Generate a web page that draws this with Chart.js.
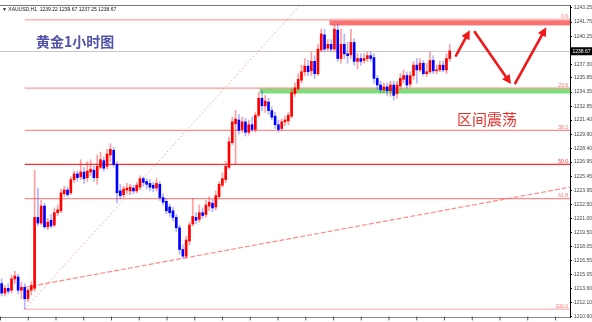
<!DOCTYPE html>
<html>
<head>
<meta charset="utf-8">
<script src="https://cdn.jsdelivr.net/npm/chart.js@4/dist/chart.umd.min.js"></script>
<style>
html,body{margin:0;padding:0;background:#fff;overflow:hidden}
</style>
</head>
<body>
<canvas id="grafica" width="592" height="322"></canvas>
<script>
// XAUUSD H1 velas: apertura, máximo, mínimo, cierre
const apertura = [
1214.1,1213.1,1213.6,1213.4,1214.6,1214.8,1213.4,1213.7,1212.5,1213.4,
1213.6,1221.1,1220.5,1222.3,1220.1,1220.8,1220.3,1221.6,1221.8,1223.6,
1224.0,1223.7,1225.1,1225.7,1225.4,1225.9,1225.3,1225.9,1226.1,1225.3,
1226.4,1227.1,1226.5,1227.7,1228.2,1226.7,1223.9,1223.5,1224.0,1223.9,
1224.2,1223.9,1224.3,1225.2,1224.9,1224.7,1224.5,1224.2,1224.6,1223.2,
1222.8,1222.2,1221.8,1221.1,1220.0,1217.7,1217.0,1218.6,1220.4,1221.1,
1220.9,1221.6,1221.4,1222.3,1222.6,1222.2,1223.3,1224.5,1225.1,1226.4,
1229.0,1231.0,1231.4,1230.4,1231.2,1230.1,1230.9,1230.4,1231.9,1233.7,
1232.9,1233.3,1232.4,1231.8,1230.9,1230.5,1231.2,1231.3,1231.8,1234.2,
1234.7,1235.6,1236.5,1237.1,1236.6,1237.6,1236.3,1238.8,1240.4,1239.0,
1239.4,1238.9,1240.9,1237.9,1239.4,1238.4,1238.3,1239.6,1237.6,1237.9,
1237.7,1237.9,1238.2,1238.0,1235.8,1235.1,1234.6,1234.9,1234.5,1235.1,
1234.2,1235.0,1235.7,1236.1,1235.2,1236.1,1237.2,1236.7,1237.4,1236.3,
1236.5,1237.7,1236.6,1236.7,1237.2,1236.7,1237.9];
const maximo = [
1214.6,1213.9,1214.1,1215.0,1215.4,1215.1,1214.2,1214.1,1213.6,1214.3,
1226.1,1224.2,1222.9,1222.6,1221.0,1221.4,1222.1,1222.4,1224.1,1224.4,
1224.3,1225.4,1226.0,1226.0,1227.2,1226.4,1227.0,1227.2,1226.5,1227.7,
1228.0,1227.5,1228.3,1228.9,1228.5,1227.0,1224.6,1224.4,1224.7,1224.6,
1224.5,1224.8,1225.5,1225.4,1225.2,1225.1,1224.8,1225.2,1224.9,1223.6,
1223.1,1222.5,1222.2,1221.4,1220.3,1218.2,1219.1,1220.6,1223.1,1221.6,
1222.4,1222.1,1222.9,1223.3,1223.0,1223.9,1224.9,1225.8,1227.0,1229.6,
1231.7,1232.4,1232.0,1231.7,1231.6,1231.4,1231.7,1232.2,1234.3,1234.5,
1234.0,1233.7,1232.8,1232.2,1231.4,1231.5,1231.8,1232.2,1234.7,1235.3,
1236.3,1237.2,1237.9,1237.7,1238.6,1238.2,1239.4,1241.0,1241.0,1239.9,
1239.9,1241.5,1241.5,1241.0,1240.5,1239.6,1241.0,1240.0,1238.4,1238.4,
1238.4,1238.6,1238.6,1238.4,1236.1,1235.5,1235.3,1235.3,1235.5,1235.5,
1235.5,1236.3,1236.7,1236.5,1236.5,1237.6,1237.9,1237.9,1237.7,1237.4,
1238.6,1238.2,1237.2,1237.6,1237.6,1238.4,1239.4];
const minimo = [
1212.8,1212.8,1213.0,1213.1,1214.1,1213.0,1212.5,1211.4,1212.2,1212.9,
1213.3,1220.2,1220.3,1219.9,1219.8,1220.0,1220.1,1221.3,1221.6,1223.3,
1223.3,1223.5,1224.8,1224.9,1225.1,1224.7,1224.9,1225.5,1224.9,1224.6,
1226.2,1226.0,1226.2,1227.0,1226.4,1222.6,1223.1,1223.2,1223.6,1223.5,
1223.6,1223.7,1224.0,1224.4,1224.1,1223.9,1223.8,1223.9,1222.9,1222.4,
1221.5,1221.2,1220.7,1219.6,1217.2,1216.8,1216.8,1218.2,1220.2,1220.4,
1220.6,1221.0,1221.1,1221.8,1221.7,1221.9,1223.1,1224.3,1224.8,1226.2,
1228.8,1226.7,1229.9,1230.1,1229.7,1229.8,1230.2,1230.1,1231.7,1232.4,
1232.2,1232.0,1231.4,1230.5,1230.1,1230.3,1230.8,1230.9,1231.6,1233.9,
1234.5,1235.3,1236.1,1236.1,1236.1,1235.8,1236.1,1238.6,1238.6,1238.7,
1238.6,1238.6,1237.6,1237.4,1237.9,1237.4,1237.9,1237.2,1236.8,1237.2,
1237.4,1237.6,1237.6,1235.3,1234.7,1234.3,1234.3,1234.0,1233.9,1233.5,
1233.7,1234.7,1235.3,1234.8,1234.9,1235.7,1235.3,1236.5,1236.1,1236.0,
1236.3,1236.3,1236.3,1236.5,1236.5,1236.3,1237.6];
const cierre = [
1213.1,1213.6,1213.3,1214.6,1214.9,1213.4,1213.7,1212.5,1213.4,1213.9,
1221.1,1220.5,1222.3,1220.1,1220.6,1220.2,1221.6,1221.9,1223.7,1224.0,
1223.5,1225.1,1225.7,1225.3,1225.9,1225.2,1226.0,1226.2,1225.3,1226.5,
1227.2,1226.3,1227.8,1228.3,1226.7,1223.7,1223.4,1224.1,1224.2,1224.3,
1223.9,1224.5,1225.2,1224.8,1224.6,1224.3,1224.2,1224.7,1223.2,1222.7,
1221.8,1221.6,1221.1,1220.0,1217.7,1217.0,1218.7,1220.3,1221.2,1220.8,
1221.6,1221.3,1222.4,1222.7,1222.1,1223.4,1224.6,1225.2,1226.5,1229.1,
1231.2,1231.5,1230.3,1231.2,1230.1,1230.9,1230.4,1231.9,1233.7,1232.9,
1233.4,1232.4,1231.7,1230.9,1230.4,1231.2,1231.4,1231.9,1234.3,1234.8,
1235.7,1236.5,1237.1,1236.5,1237.6,1236.3,1238.9,1240.5,1238.9,1239.4,
1238.9,1241.0,1237.9,1239.4,1238.4,1238.2,1239.6,1237.6,1237.9,1237.6,
1237.9,1238.2,1237.9,1235.8,1235.1,1234.6,1234.9,1234.5,1235.1,1234.0,
1235.1,1235.8,1236.1,1235.1,1236.1,1237.2,1236.7,1237.4,1236.3,1236.5,
1237.7,1236.6,1236.7,1237.2,1236.7,1237.9,1238.7];

// Eje de precios
const marcasY = [1243.25,1241.75,1240.25,1237.30,1235.85,1234.35,1232.85,1231.40,1229.90,
  1228.40,1226.95,1225.45,1223.95,1222.50,1221.00,1219.50,1218.05,1216.55,1215.05,1213.60,1212.10,1210.60];
const precioActual = 1238.67;
const totalBarras = 173; // incluye espacio vacío a la derecha

// Fibonacci
const fibAlto = 1242.0, fibBajo = 1211.4, fibInicio = 7;
const fibNiveles = [0, 23.6, 38.2, 50, 61.8, 100];
const fibTextos = ['0.0', '23.6', '38.2', '50.0', '61.8', '100.0'];
const fibColores = ['#ffb4b4', '#ff9a9a', '#ff8c8c', '#ff2e2e', '#ff8c8c', '#ffb4b4'];

// Zonas [desde, hasta, precio arriba, precio abajo]
const zonaRoja = [99.5, 172.5, 1242.1, 1241.4];
const zonaVerde = [78.3, 172.5, 1234.8, 1234.2];

// Líneas [x1, p1, x2, p2]
const tendencia = [7, 1213.7, 172.5, 1224.3];
const punteada = [7, 1211.4, 92, 1244.1];

// Flechas [x1, p1, x2, p2]
const flechas = [
  [137.9, 1238.2, 142.1, 1240.9],
  [143.6, 1240.7, 154.6, 1235.2],
  [155.9, 1235.3, 165.3, 1241.2]
];

const etiquetas = Array.from({length: totalBarras}, (_, i) => i);
const cuerpos = apertura.map((o, i) => [o, cierre[i]]);
const mechas = minimo.map((l, i) => [l, maximo[i]]);
const sube = apertura.map((o, i) => cierre[i] >= o);

const dibujos = {
  id: 'dibujos',
  beforeDatasetsDraw(chart) {
    const {ctx, chartArea: a, scales: {x, y}} = chart;
    ctx.save();
    ctx.beginPath();
    ctx.rect(a.left, a.top, a.right - a.left, a.bottom - a.top);
    ctx.clip();
    // zonas
    const zona = (z, color) => {
      const x1 = x.getPixelForValue(z[0]), x2 = x.getPixelForValue(z[1]);
      const y1 = y.getPixelForValue(z[2]), y2 = y.getPixelForValue(z[3]);
      ctx.fillStyle = color;
      ctx.fillRect(x1, y1, x2 - x1 + 4, y2 - y1);
    };
    zona(zonaRoja, 'rgba(248,100,100,0.9)');
    zona(zonaVerde, 'rgba(110,220,110,0.9)');
    // precio actual
    const yp = Math.round(y.getPixelForValue(precioActual)) + 0.5;
    ctx.strokeStyle = '#c8c8c8';
    ctx.lineWidth = 1;
    ctx.beginPath(); ctx.moveTo(a.left, yp); ctx.lineTo(a.right, yp); ctx.stroke();
    // fibonacci
    const x0 = x.getPixelForValue(fibInicio);
    fibNiveles.forEach((n, k) => {
      const py = y.getPixelForValue(fibAlto - (fibAlto - fibBajo) * n / 100);
      ctx.strokeStyle = fibColores[k];
      ctx.lineWidth = 1.3;
      ctx.beginPath(); ctx.moveTo(x0, py); ctx.lineTo(a.right, py); ctx.stroke();
      ctx.fillStyle = fibColores[k] === '#ff2e2e' ? '#ff2e2e' : '#ff7070';
      ctx.font = '5px "Liberation Sans"';
      ctx.textAlign = 'right';
      ctx.fillText(fibTextos[k], a.right - 2, py - 1.5);
    });
    // líneas
    const linea = (l, color, dash, w) => {
      ctx.strokeStyle = color; ctx.lineWidth = w; ctx.setLineDash(dash);
      ctx.beginPath();
      ctx.moveTo(x.getPixelForValue(l[0]), y.getPixelForValue(l[1]));
      ctx.lineTo(x.getPixelForValue(l[2]), y.getPixelForValue(l[3]));
      ctx.stroke();
      ctx.setLineDash([]);
    };
    linea(tendencia, 'rgba(255,110,110,0.8)', [5, 2], 1.2);
    linea(punteada, 'rgba(255,120,120,0.7)', [1.5, 2.5], 1);
    ctx.restore();
  },
  afterDatasetsDraw(chart) {
    const {ctx, chartArea: a, scales: {x, y}} = chart;
    ctx.save();
    // flechas
    ctx.strokeStyle = '#f01818';
    ctx.fillStyle = '#f01818';
    ctx.lineWidth = 2.6;
    ctx.lineCap = 'round';
    flechas.forEach(f => {
      const x1 = x.getPixelForValue(f[0]), y1 = y.getPixelForValue(f[1]);
      const x2 = x.getPixelForValue(f[2]), y2 = y.getPixelForValue(f[3]);
      const ang = Math.atan2(y2 - y1, x2 - x1);
      const L = 9, W = 4.5;
      const bx = x2 - L * Math.cos(ang), by = y2 - L * Math.sin(ang);
      ctx.beginPath(); ctx.moveTo(x1, y1); ctx.lineTo(bx, by); ctx.stroke();
      ctx.beginPath();
      ctx.moveTo(x2, y2);
      ctx.lineTo(bx + W * Math.sin(ang), by - W * Math.cos(ang));
      ctx.lineTo(bx - W * Math.sin(ang), by + W * Math.cos(ang));
      ctx.closePath(); ctx.fill();
    });
    // textos
    ctx.textAlign = 'left';
    ctx.fillStyle = '#5252aa';
    ctx.font = 'bold 14px "Noto Sans CJK SC"';
    ctx.fillText('黄金1小时图', a.left + 36, a.top + 42);
    ctx.fillStyle = '#e8302a';
    ctx.font = '15px "Noto Sans CJK SC"';
    ctx.fillText('区间震荡', a.left + 457, a.top + 120);
    ctx.fillStyle = '#111';
    ctx.font = '5px "Liberation Sans"';
    ctx.fillText('▼ XAUUSD,H1  1239.22 1239.67 1237.25 1238.67', a.left + 2, a.top + 6);
    // borde superior
    ctx.strokeStyle = '#777';
    ctx.lineWidth = 1;
    ctx.beginPath(); ctx.moveTo(a.left, a.top + 0.5); ctx.lineTo(a.right, a.top + 0.5); ctx.stroke();
    // marcas del eje de tiempo
    ctx.strokeStyle = '#555';
    for (let px = a.left + 0.5; px < a.right; px += 27.75) {
      ctx.beginPath(); ctx.moveTo(px, a.bottom); ctx.lineTo(px, a.bottom + 3); ctx.stroke();
    }
    // caja del precio actual
    const yp = y.getPixelForValue(precioActual);
    ctx.fillStyle = '#000';
    ctx.fillRect(a.right + 1, yp - 4, 21, 8);
    ctx.fillStyle = '#fff';
    ctx.font = '5px "Liberation Sans"';
    ctx.textAlign = 'left';
    ctx.textBaseline = 'middle';
    ctx.fillText(precioActual.toFixed(2), a.right + 2.5, yp + 0.5);
    ctx.restore();
  }
};

new Chart(document.getElementById('grafica'), {
  type: 'bar',
  data: {
    labels: etiquetas,
    datasets: [
      {
        data: mechas,
        backgroundColor: sube.map(s => s ? 'rgba(255,40,40,0.45)' : 'rgba(40,40,255,0.35)'),
        barThickness: 1,
        grouped: false,
        borderWidth: 0,
        order: 2
      },
      {
        data: cuerpos,
        backgroundColor: sube.map(s => s ? '#ff0000' : '#0000ff'),
        barThickness: 2,
        minBarLength: 1,
        grouped: false,
        borderWidth: 0,
        order: 1
      }
    ]
  },
  options: {
    responsive: false,
    animation: false,
    layout: {padding: 0, autoPadding: false},
    plugins: {legend: {display: false}, tooltip: {enabled: false}},
    scales: {
      x: {
        offset: true,
        ticks: {display: false},
        grid: {drawOnChartArea: false, drawTicks: false},
        border: {color: '#888'},
        afterFit: s => { s.height = 3; }
      },
      y: {
        position: 'right',
        min: 1210.57,
        max: 1243.56,
        afterBuildTicks: s => { s.ticks = marcasY.map(v => ({value: v})); },
        afterFit: s => { s.width = 22; },
        ticks: {
          font: {size: 5, family: 'Liberation Sans'},
          color: '#444',
          padding: 2,
          autoSkip: false,
          callback: v => Number(v).toFixed(2)
        },
        grid: {drawOnChartArea: false, tickLength: 2, color: '#000'},
        border: {color: '#000'}
      }
    }
  },
  plugins: [dibujos]
});
</script>
</body>
</html>
